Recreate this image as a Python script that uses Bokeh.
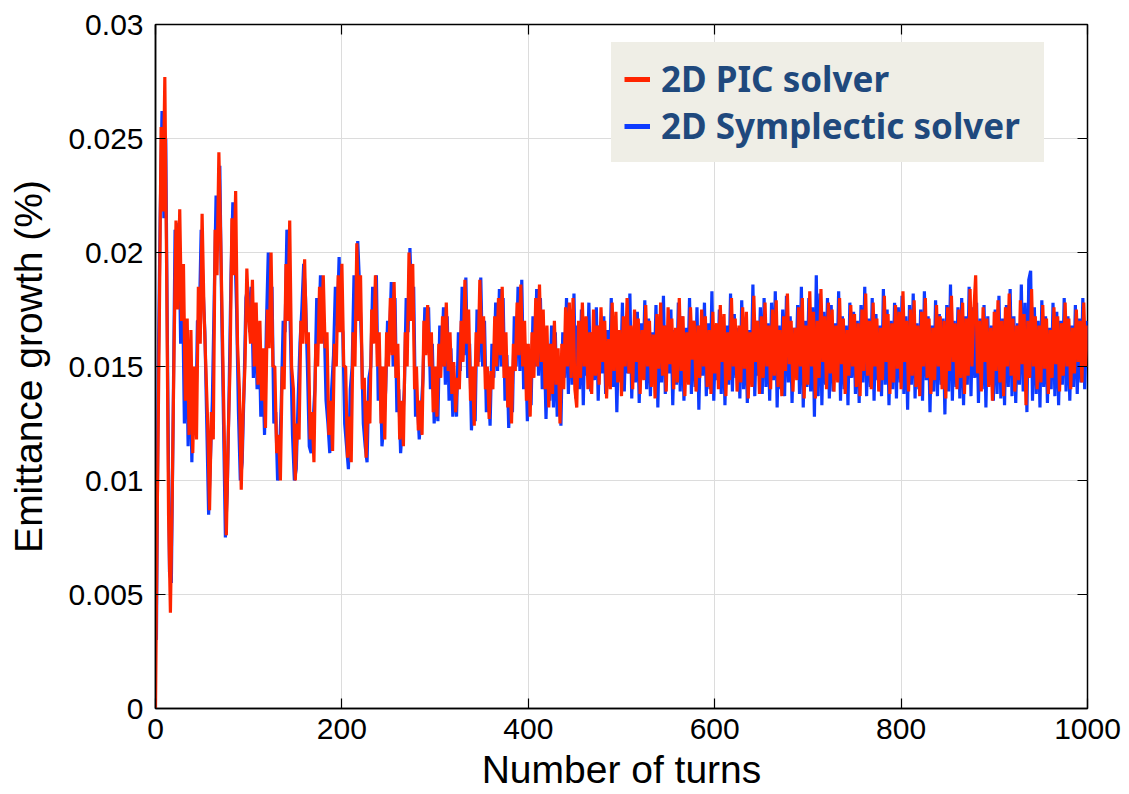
from bokeh.plotting import figure
from bokeh.models import (Range1d, LinearAxis, FixedTicker, CustomJSTickFormatter,
                          Legend, LegendItem)
from bokeh.embed import file_html
from bokeh.resources import INLINE

# ---------------- data (in units of 1e-4 %) ----------------
VALUE_UNIT = 1e-4

pic_turns = list(range(0, 1001, 2))
pic_values_e4 = [
    0, 90, 165, 255, 218, 277, 190, 85, 42, 95,
    160, 214, 175, 219, 170, 195, 135, 171, 120, 166,
    112, 150, 118, 185, 160, 217, 175, 150, 125, 87,
    130, 118, 210, 190, 244, 205, 160, 115, 76, 118,
    150, 215, 190, 227, 160, 140, 96, 130, 150, 193,
    172, 160, 188, 150, 178, 142, 170, 135, 158, 123,
    175, 158, 200, 150, 150, 112, 120, 100, 150, 140,
    195, 170, 214, 150, 140, 100, 125, 118, 170, 160,
    197, 160, 165, 118, 130, 108, 160, 150, 185, 160,
    190, 158, 165, 120, 135, 113, 160, 150, 190, 165,
    195, 150, 150, 110, 128, 108, 165, 150, 204, 170,
    190, 140, 145, 110, 135, 125, 175, 160, 190, 150,
    165, 125, 150, 118, 165, 150, 180, 155, 187, 145,
    160, 118, 135, 115, 165, 150, 200, 170, 195, 140,
    150, 122, 135, 120, 170, 155, 177, 150, 165, 130,
    150, 128, 160, 145, 172, 150, 178, 148, 165, 138,
    152, 130, 145, 140, 170, 152, 188, 160, 175, 135,
    150, 124, 165, 150, 188, 160, 172, 140, 150, 127,
    148, 140, 172, 150, 180, 155, 185, 145, 165, 132,
    150, 125, 160, 148, 178, 155, 186, 150, 170, 135,
    160, 128, 165, 145, 180, 150, 186, 152, 175, 140,
    168, 132, 160, 138, 170, 142, 158, 125, 160, 140,
    176, 150, 178, 145, 180, 140, 132, 170, 145, 178,
    150, 172, 140, 165, 138, 175, 146, 168, 142, 176,
    152, 170, 136, 162, 140, 178, 148, 174, 143, 166,
    137, 172, 150, 180, 147, 168, 140, 175, 152, 171,
    138, 166, 144, 177, 150, 170, 141, 164, 136, 173,
    149, 178, 146, 168, 139, 176, 151, 171, 140, 167,
    143, 180, 148, 172, 137, 165, 142, 176, 153, 170,
    139, 168, 145, 175, 150, 172, 141, 166, 138, 174,
    147, 169, 140, 177, 152, 173, 137, 165, 144, 180,
    150, 171, 139, 168, 143, 176, 149, 174, 136, 165,
    141, 181, 152, 170, 138, 172, 145, 178, 150, 168,
    140, 175, 146, 179, 141, 166, 137, 172, 148, 182,
    151, 170, 139, 167, 144, 176, 150, 180, 136, 168,
    142, 183, 150, 174, 136, 170, 145, 184, 152, 172,
    140, 178, 147, 175, 139, 168, 143, 180, 151, 171,
    138, 166, 146, 177, 150, 173, 141, 169, 137, 175,
    148, 182, 146, 170, 140, 178, 150, 171, 139, 167,
    144, 181, 152, 173, 138, 169, 143, 177, 149, 174,
    140, 183, 152, 170, 139, 175, 146, 179, 141, 168,
    137, 174, 150, 180, 145, 171, 138, 167, 144, 177,
    150, 172, 140, 170, 136, 176, 148, 181, 152, 169,
    140, 175, 145, 178, 138, 171, 146, 184, 150, 174,
    190, 147, 170, 139, 176, 152, 171, 141, 167, 135,
    174, 148, 179, 143, 170, 137, 176, 150, 182, 146,
    171, 139, 168, 144, 179, 151, 173, 133, 170, 145,
    184, 150, 172, 140, 168, 143, 177, 149, 171, 138,
    166, 145, 176, 151, 172, 139, 169, 146, 178, 150,
    171, 140, 167, 147, 175, 152, 170, 143, 178, 150,
    168,
]

symp_turns = list(range(1, 1000, 2))
symp_values_e4 = [
    30, 150, 215, 262, 215, 250, 150, 60, 55, 130,
    210, 195, 213, 160, 185, 125, 168, 115, 160, 108,
    145, 120, 170, 170, 210, 185, 165, 125, 85, 110,
    135, 180, 225, 215, 238, 175, 125, 75, 95, 140,
    190, 222, 205, 175, 130, 100, 108, 140, 180, 185,
    165, 185, 145, 175, 140, 168, 128, 150, 120, 168,
    200, 170, 185, 125, 130, 100, 110, 135, 170, 165,
    210, 195, 160, 120, 100, 105, 135, 160, 175, 195,
    180, 150, 115, 112, 125, 140, 180, 162, 190, 165,
    170, 135, 125, 112, 140, 155, 185, 168, 198, 170,
    165, 125, 115, 105, 140, 150, 190, 175, 205, 185,
    160, 125, 115, 108, 145, 150, 185, 165, 190, 135,
    150, 115, 125, 140, 170, 160, 187, 150, 180, 130,
    140, 112, 125, 140, 180, 165, 202, 175, 185, 128,
    135, 118, 130, 145, 176, 158, 176, 140, 160, 125,
    140, 126, 168, 150, 176, 142, 172, 135, 158, 128,
    145, 128, 165, 148, 185, 155, 189, 145, 160, 122,
    140, 126, 175, 152, 189, 150, 170, 130, 145, 124,
    160, 145, 178, 148, 184, 150, 180, 135, 155, 123,
    145, 130, 172, 150, 185, 148, 188, 140, 160, 126,
    150, 133, 172, 150, 184, 146, 180, 140, 162, 127,
    160, 135, 168, 132, 165, 128, 150, 124, 165, 145,
    180, 138, 175, 142, 182, 136, 168, 140, 175, 133,
    170, 146, 178, 139, 165, 144, 176, 135, 168, 147,
    172, 138, 166, 145, 180, 141, 170, 130, 164, 144,
    178, 139, 171, 147, 182, 136, 167, 143, 174, 134,
    169, 146, 179, 140, 171, 137, 165, 145, 177, 132,
    170, 143, 181, 138, 168, 147, 175, 133, 166, 142,
    178, 139, 172, 135, 167, 144, 180, 138, 170, 141,
    176, 131, 168, 146, 178, 137, 169, 140, 183, 135,
    166, 144, 175, 138, 171, 133, 168, 142, 182, 139,
    173, 145, 167, 136, 179, 140, 171, 134, 166, 143,
    186, 137, 170, 146, 176, 138, 180, 141, 169, 135,
    178, 144, 183, 132, 168, 140, 175, 137, 181, 143,
    172, 134, 167, 145, 177, 138, 185, 132, 170, 141,
    180, 139, 176, 128, 190, 137, 182, 133, 174, 142,
    180, 136, 177, 139, 169, 144, 183, 135, 172, 140,
    168, 133, 178, 145, 174, 138, 170, 134, 177, 143,
    185, 137, 171, 141, 180, 135, 173, 144, 168, 137,
    184, 142, 175, 133, 170, 140, 178, 136, 176, 143,
    181, 138, 172, 131, 177, 142, 182, 136, 169, 140,
    175, 135, 183, 144, 172, 130, 168, 139, 179, 137,
    173, 142, 171, 129, 177, 139, 186, 135, 170, 141,
    176, 136, 180, 133, 172, 142, 185, 137, 176, 145,
    178, 134, 171, 140, 177, 132, 172, 142, 168, 135,
    175, 138, 181, 136, 171, 133, 177, 141, 184, 137,
    172, 134, 169, 142, 186, 139, 178, 130, 188, 192,
    135, 176, 138, 170, 132, 179, 141, 172, 134, 167,
    140, 178, 137, 174, 133, 170, 142, 180, 139, 172,
    135, 168, 141, 177, 138, 171, 143, 180, 140, 170,
]

series_labels = ["2D PIC solver", "2D Symplectic solver"]
x_tick_values = [0, 200, 400, 600, 800, 1000]
y_tick_values = [0, 0.005, 0.01, 0.015, 0.02, 0.025, 0.03]
x_axis_label = "Number of turns"
y_axis_label = "Emittance growth (%)"

# ---------------- build ----------------
n_p = min(len(pic_turns), len(pic_values_e4))
n_s = min(len(symp_turns), len(symp_values_e4))
pic_x = pic_turns[:n_p]
pic_y = [v * VALUE_UNIT for v in pic_values_e4[:n_p]]
symp_x = symp_turns[:n_s]
symp_y = [v * VALUE_UNIT for v in symp_values_e4[:n_s]]

RED = "#FF2400"
BLUE = "#0D3BFF"
FONT = "Liberation Sans"
LEGEND_BG = "#EFEEE6"

p = figure(width=1128, height=793,
           x_range=Range1d(0, 1000), y_range=Range1d(0, 0.03),
           output_backend="svg", toolbar_location=None,
           min_border_left=155, min_border_right=41,
           min_border_top=24, min_border_bottom=83,
           background_fill_color="white", border_fill_color="white")

p.outline_line_color = "black"
p.outline_line_width = 1.5

p.xgrid.grid_line_color = "#DCDCDC"
p.ygrid.grid_line_color = "#DCDCDC"
p.xgrid.grid_line_width = 1
p.ygrid.grid_line_width = 1

fmt = CustomJSTickFormatter(code="""
    var s = tick.toFixed(3);
    s = s.replace(/0+$/, '');
    s = s.replace(/\\.$/, '');
    return s;
""")

xa = p.xaxis[0]
xa.ticker = FixedTicker(ticks=x_tick_values)
ya = p.yaxis[0]
ya.ticker = FixedTicker(ticks=y_tick_values)
ya.formatter = fmt
p.xgrid.ticker = FixedTicker(ticks=x_tick_values)
p.ygrid.ticker = FixedTicker(ticks=y_tick_values)

for ax in (xa, ya):
    ax.axis_line_color = "black"
    ax.axis_line_width = 1.5
    ax.major_tick_in = 10
    ax.major_tick_out = 0
    ax.major_tick_line_color = "black"
    ax.major_tick_line_width = 1.2
    ax.minor_tick_line_color = None
    ax.major_label_text_font = FONT
    ax.major_label_text_font_size = "30px"
    ax.major_label_text_color = "black"
    ax.axis_label_text_font = FONT
    ax.axis_label_text_font_size = "39px"
    ax.axis_label_text_font_style = "normal"
    ax.axis_label_text_color = "black"

xa.axis_label = x_axis_label
xa.major_label_standoff = 10
xa.axis_label_standoff = 6
ya.axis_label = y_axis_label
ya.major_label_standoff = 12
ya.axis_label_standoff = 15

# mirrored tick marks on top and right (labels not drawn)
top_ax = LinearAxis(ticker=FixedTicker(ticks=x_tick_values), axis_line_color=None,
                    major_tick_in=10, major_tick_out=0, major_tick_line_color="black",
                    major_tick_line_width=1.2, minor_tick_line_color=None,
                    major_label_text_font_size="1px", major_label_text_color=None,
                    major_label_standoff=0)
right_ax = LinearAxis(ticker=FixedTicker(ticks=y_tick_values), axis_line_color=None,
                      major_tick_in=10, major_tick_out=0, major_tick_line_color="black",
                      major_tick_line_width=1.2, minor_tick_line_color=None,
                      major_label_text_font_size="1px", major_label_text_color=None,
                      major_label_standoff=0)
p.add_layout(top_ax, "above")
p.add_layout(right_ax, "right")

# data lines
p.line(x=symp_x, y=symp_y, line_color=BLUE, line_width=3.2)
p.line(x=pic_x, y=pic_y, line_color=RED, line_width=3.2)

# legend proxies (single point -> no visible mark, thicker legend strokes)
leg_pic = p.line(x=pic_x[:1], y=pic_y[:1], line_color=RED, line_width=5)
leg_symp = p.line(x=symp_x[:1], y=symp_y[:1], line_color=BLUE, line_width=5)
legend = Legend(items=[LegendItem(label=series_labels[0], renderers=[leg_pic]),
                       LegendItem(label=series_labels[1], renderers=[leg_symp])],
                location=(456, 546), margin=0, padding=12,
                background_fill_color=LEGEND_BG, background_fill_alpha=1,
                border_line_color=LEGEND_BG, border_line_width=1,
                label_text_font="Noto Sans", label_text_font_style="bold",
                label_text_font_size="35px", label_text_color="#1F497D",
                glyph_width=26, glyph_height=40, label_height=40,
                label_width=370, label_standoff=11, spacing=0)
p.add_layout(legend, "center")

open("out.html", "w").write(file_html(p, INLINE))
